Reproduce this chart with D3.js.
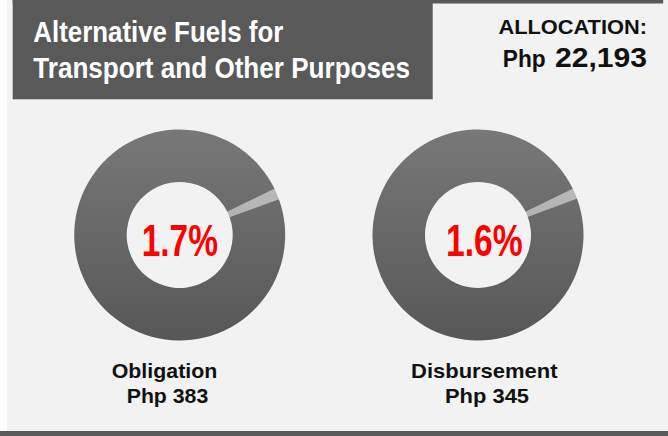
<!DOCTYPE html>
<html>
<head>
<meta charset="utf-8">
<script src="https://cdn.jsdelivr.net/npm/d3@7"></script>
<style>
  html, body { margin: 0; padding: 0; background: #ffffff; }
  svg { display: block; }
</style>
</head>
<body>
<svg id="chart" width="668" height="436"></svg>
<script>
// chart values
const titleLines = ['Alternative Fuels for', 'Transport and Other Purposes'];
const allocation = 22193;
const categories = ['Obligation', 'Disbursement'];
const amounts = [383, 345];
const shares = [1.7, 1.6];

const width = 668, height = 436;
const svg = d3.select('#chart');
const fmt = d3.format(',');
const sans = '"Liberation Sans", Arial, sans-serif';

// panel + frame
svg.append('rect').attr('x', 7).attr('y', 0).attr('width', width - 7).attr('height', 431).attr('fill', '#f2f2f2');
svg.append('rect').attr('x', 12.7).attr('y', 0).attr('width', 650.5).attr('height', 3.5).attr('fill', '#595959');
svg.append('rect').attr('x', 12.7).attr('y', 0).attr('width', 420).attr('height', 99.3).attr('fill', '#595959');
svg.append('rect').attr('x', 0).attr('y', 431).attr('width', width).attr('height', 5).attr('fill', '#595959');

// helper: text squeezed to a measured width
function label(x, y, txt, size, len, fill) {
  return svg.append('text')
    .attr('x', x).attr('y', y)
    .attr('font-family', sans)
    .attr('font-weight', 'bold')
    .attr('font-size', size)
    .attr('fill', fill || '#111')
    .attr('textLength', len)
    .attr('lengthAdjust', 'spacingAndGlyphs')
    .text(txt);
}

// title
const titleLen = [250, 376.7];
titleLines.forEach((t, i) => {
  label(33.3, 41.7 + i * 36.6, t, 30, titleLen[i], '#ffffff');
});

// allocation box
label(498.4, 33.8, 'ALLOCATION:', 21, 148.6);
label(502.8, 66.5, 'Php', 24, 42.9);
label(555, 66.5, fmt(allocation), 28, 92);

// donuts
const x = d3.scalePoint().domain(categories).range([179.7, 478]);
const cy = 235, outerR = 105.5, innerR = 53;
const startA = 64 * Math.PI / 180;
const pie = d3.pie().sort(null).startAngle(startA).endAngle(startA + 2 * Math.PI);
const arc = d3.arc().innerRadius(innerR).outerRadius(outerR);

const defs = svg.append('defs');
function grad(id, top, bottom) {
  const g = defs.append('linearGradient').attr('id', id)
    .attr('gradientUnits', 'userSpaceOnUse')
    .attr('x1', 0).attr('y1', -outerR).attr('x2', 0).attr('y2', outerR);
  g.append('stop').attr('offset', 0).attr('stop-color', top);
  g.append('stop').attr('offset', 1).attr('stop-color', bottom);
}
grad('gSpent', '#c4c4c4', '#9a9a9a');
grad('gRest', '#787878', '#575757');

const pctX = [141.7, 446];
const pctLen = [76.3, 76.7];
const nameX = [111.7, 411];
const nameLen = [105.6, 146.6];
const amtX = [126.7, 445];
const amtLen = [81.6, 84];

categories.forEach((c, i) => {
  const g = svg.append('g').attr('transform', `translate(${x(c)},${cy})`);
  g.selectAll('path')
    .data(pie([shares[i], 100 - shares[i]]))
    .join('path')
    .attr('d', arc)
    .attr('fill', (d, j) => j === 0 ? 'url(#gSpent)' : 'url(#gRest)');

  label(pctX[i], 255.7, d3.format('.1f')(shares[i]) + '%', 44, pctLen[i], '#ff0000');
  label(nameX[i], 378.3, c, 21, nameLen[i]);
  label(amtX[i], 403.3, 'Php ' + fmt(amounts[i]), 21, amtLen[i]);
});
</script>
</body>
</html>
